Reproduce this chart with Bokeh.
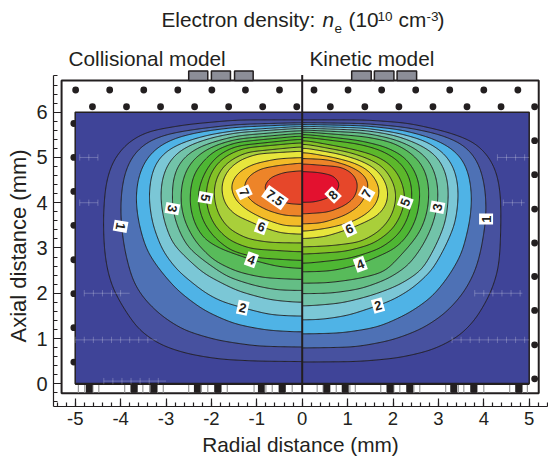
import numpy as np
from bokeh.embed import file_html
from bokeh.resources import INLINE
from bokeh.plotting import figure
from bokeh.models import Label, FixedTicker, Title
from bokeh.core.properties import value

# ---- contour levels and fill colours (density, 10^10 cm^-3)
levels_left = [0.5, 1, 1.5, 2, 2.5, 3, 3.5, 4, 4.5, 5, 5.5, 6, 6.5, 7, 7.5]
levels_right = levels_left + [8]
band_colors = ["#47519f", "#4e71b5", "#4fb3e6", "#7bc7d6", "#72c3a9", "#64be85", "#58bb5a", "#4eb733",
               "#5cb82b", "#84c226", "#a9cf3a", "#e7e63c", "#f3bb28", "#ed8429", "#e6472a", "#e3112f"]
background_color = "#3f4498"

# ---- left half (collisional model): contour outlines, radial / axial distance in mm
left_r = [
 [0, -1.43, -2.53, -3.41, -3.85, -4.18, -4.33, -4.38, -4.37, -4.31, -4.19, -3.93, -3.6, -3.12, -2.53, -1.8, -0.99, 0],
 [0, -1.43, -2.31, -2.97, -3.45, -3.78, -3.94, -4.0, -3.99, -3.91, -3.74, -3.52, -3.12, -2.61, -1.87, -0.99, 0],
 [0, -1.43, -2.17, -2.75, -3.16, -3.45, -3.62, -3.67, -3.6, -3.43, -3.16, -2.75, -2.17, -1.5, -0.77, 0],
 [0, -1.43, -2.02, -2.53, -2.94, -3.21, -3.34, -3.38, -3.3, -3.08, -2.75, -2.16, -1.8, -1.31, -0.7, 0],
 [0, -1.43, -1.95, -2.42, -2.75, -2.97, -3.1, -3.12, -3.05, -2.86, -2.57, -2.17, -1.43, -0.7, 0],
 [0, -1.43, -1.87, -2.28, -2.57, -2.77, -2.86, -2.86, -2.75, -2.53, -2.17, -1.65, -1.06, -0.55, 0],
 [0, -1.43, -1.8, -2.13, -2.39, -2.57, -2.67, -2.67, -2.57, -2.35, -1.95, -1.43, -0.84, 0],
 [0, -1.43, -1.73, -1.98, -2.2, -2.39, -2.47, -2.47, -2.37, -2.17, -1.8, -1.12, -0.55, 0],
 [0, -1.43, -1.65, -1.87, -2.06, -2.2, -2.3, -2.28, -2.18, -1.95, -1.58, -0.99, 0],
 [0, -1.28, -1.58, -1.8, -1.98, -2.09, -2.13, -2.06, -1.91, -1.62, -1.14, 0],
 [0, -1.21, -1.5, -1.73, -1.87, -1.95, -1.93, -1.84, -1.62, -1.21, -0.7, 0],
 [0, -0.99, -1.36, -1.62, -1.76, -1.78, -1.69, -1.47, -1.21, -0.9, -0.48, 0],
 [0, -0.55, -1.06, -1.36, -1.52, -1.58, -1.47, -1.21, -0.84, -0.4, 0],
 [0, -0.55, -0.92, -1.17, -1.28, -1.28, -1.1, -0.77, -0.4, 0],
 [0, -0.4, -0.7, -0.84, -0.81, -0.62, -0.33, 0],
]
left_z = [
 [5.83, 5.83, 5.73, 5.58, 5.34, 4.93, 4.42, 3.75, 3.09, 2.58, 2.13, 1.66, 1.18, 0.85, 0.66, 0.54, 0.5, 0.49],
 [5.77, 5.73, 5.63, 5.52, 5.34, 5.0, 4.56, 4.05, 3.53, 2.94, 2.28, 1.91, 1.51, 1.18, 0.96, 0.83, 0.81],
 [5.73, 5.67, 5.58, 5.45, 5.26, 4.97, 4.56, 4.05, 3.53, 2.94, 2.54, 2.06, 1.62, 1.32, 1.18, 1.14],
 [5.69, 5.6, 5.51, 5.37, 5.19, 4.93, 4.56, 4.09, 3.53, 2.94, 2.5, 2.02, 1.82, 1.68, 1.52, 1.49],
 [5.65, 5.55, 5.45, 5.3, 5.12, 4.86, 4.49, 4.05, 3.61, 3.09, 2.8, 2.43, 2.05, 1.85, 1.79],
 [5.6, 5.48, 5.37, 5.23, 5.04, 4.78, 4.42, 3.87, 3.46, 3.02, 2.72, 2.36, 2.17, 2.07, 2.06],
 [5.54, 5.41, 5.31, 5.17, 4.97, 4.71, 4.34, 3.9, 3.53, 3.13, 2.72, 2.47, 2.34, 2.3],
 [5.48, 5.34, 5.24, 5.12, 4.9, 4.64, 4.27, 3.9, 3.53, 3.2, 2.98, 2.74, 2.59, 2.54],
 [5.41, 5.26, 5.17, 5.04, 4.82, 4.56, 4.23, 3.9, 3.57, 3.24, 2.94, 2.78, 2.72],
 [5.33, 5.21, 5.09, 4.95, 4.73, 4.45, 4.11, 3.75, 3.46, 3.17, 2.98, 2.91],
 [5.24, 5.12, 4.99, 4.82, 4.6, 4.31, 4.01, 3.72, 3.42, 3.2, 3.12, 3.11],
 [5.14, 5.08, 4.95, 4.75, 4.49, 4.23, 3.94, 3.72, 3.61, 3.47, 3.33, 3.3],
 [5.0, 4.97, 4.86, 4.71, 4.53, 4.33, 4.05, 3.83, 3.64, 3.49, 3.48],
 [4.88, 4.82, 4.75, 4.6, 4.42, 4.23, 4.01, 3.83, 3.72, 3.7],
 [4.71, 4.67, 4.56, 4.38, 4.23, 4.09, 3.98, 3.96],
]

# ---- right half (kinetic model)
right_r = [
 [0, 1.39, 2.34, 3.22, 3.81, 4.14, 4.3, 4.37, 4.38, 4.36, 4.32, 4.14, 3.81, 3.44, 2.86, 2.12, 1.24, 0],
 [0, 1.39, 2.27, 3.0, 3.55, 3.85, 3.99, 4.05, 4.05, 3.94, 3.81, 3.55, 3.15, 2.64, 1.98, 1.17, 0],
 [0, 1.39, 2.2, 2.86, 3.3, 3.57, 3.7, 3.74, 3.7, 3.52, 3.22, 2.86, 2.34, 1.68, 0.87, 0],
 [0, 1.39, 2.12, 2.71, 3.11, 3.33, 3.43, 3.44, 3.37, 3.15, 2.86, 2.42, 1.98, 1.67, 1.02, 0.43, 0],
 [0, 1.39, 2.05, 2.56, 2.93, 3.13, 3.22, 3.22, 3.15, 2.93, 2.64, 2.12, 1.53, 0.87, 0],
 [0, 1.39, 2.01, 2.45, 2.78, 2.94, 3.0, 2.98, 2.86, 2.64, 2.34, 1.9, 1.31, 0.65, 0],
 [0, 1.39, 1.98, 2.38, 2.64, 2.77, 2.8, 2.75, 2.6, 2.34, 1.83, 1.24, 0.58, 0],
 [0, 1.24, 1.83, 2.23, 2.45, 2.58, 2.6, 2.53, 2.34, 2.05, 1.28, 0.65, 0],
 [0, 1.24, 1.72, 2.08, 2.31, 2.42, 2.42, 2.33, 2.12, 1.72, 1.02, 0],
 [0, 1.09, 1.57, 1.9, 2.12, 2.25, 2.27, 2.16, 1.98, 1.57, 0.95, 0],
 [0, 1.02, 1.42, 1.76, 1.96, 2.07, 2.06, 1.94, 1.68, 1.28, 0.65, 0],
 [0, 0.8, 1.24, 1.57, 1.79, 1.9, 1.87, 1.68, 1.39, 1.04, 0.51, 0],
 [0, 0.65, 1.09, 1.42, 1.62, 1.72, 1.64, 1.42, 1.09, 0.58, 0],
 [0, 0.58, 1.02, 1.31, 1.48, 1.42, 1.28, 0.95, 0.43, 0],
 [0, 0.51, 0.87, 1.13, 1.24, 1.17, 0.95, 0.58, 0],
 [0, 0.36, 0.69, 0.84, 0.76, 0.54, 0.25, 0],
]
right_z = [
 [5.83, 5.83, 5.76, 5.56, 5.34, 5.0, 4.64, 4.19, 3.68, 2.94, 2.5, 1.97, 1.4, 1.03, 0.74, 0.57, 0.49, 0.48],
 [5.77, 5.75, 5.67, 5.52, 5.3, 4.97, 4.56, 4.12, 3.64, 2.94, 2.47, 1.99, 1.55, 1.21, 0.96, 0.81, 0.79],
 [5.73, 5.7, 5.61, 5.43, 5.21, 4.93, 4.53, 4.09, 3.61, 2.87, 2.36, 1.91, 1.55, 1.25, 1.12, 1.1],
 [5.69, 5.65, 5.54, 5.37, 5.12, 4.82, 4.45, 4.05, 3.53, 3.02, 2.5, 2.1, 1.84, 1.73, 1.51, 1.42, 1.41],
 [5.65, 5.6, 5.49, 5.3, 5.08, 4.78, 4.42, 4.01, 3.53, 3.02, 2.5, 2.17, 1.95, 1.78, 1.71],
 [5.61, 5.54, 5.41, 5.23, 4.97, 4.64, 4.27, 3.9, 3.46, 3.02, 2.61, 2.32, 2.1, 2.0, 1.99],
 [5.57, 5.46, 5.34, 5.12, 4.86, 4.53, 4.16, 3.75, 3.35, 3.02, 2.47, 2.32, 2.23, 2.22],
 [5.52, 5.38, 5.24, 5.04, 4.78, 4.45, 4.09, 3.68, 3.28, 2.98, 2.64, 2.49, 2.47],
 [5.46, 5.3, 5.17, 4.97, 4.71, 4.38, 4.01, 3.64, 3.28, 2.98, 2.76, 2.65],
 [5.39, 5.19, 5.06, 4.89, 4.64, 4.31, 4.01, 3.68, 3.39, 3.09, 2.92, 2.86],
 [5.31, 5.12, 4.99, 4.82, 4.56, 4.27, 3.97, 3.64, 3.35, 3.13, 3.05, 3.02],
 [5.22, 5.08, 4.95, 4.79, 4.56, 4.27, 3.97, 3.72, 3.57, 3.42, 3.25, 3.2],
 [5.12, 5.01, 4.9, 4.75, 4.53, 4.27, 3.97, 3.75, 3.57, 3.44, 3.36],
 [4.98, 4.95, 4.82, 4.67, 4.45, 4.2, 3.94, 3.72, 3.55, 3.53],
 [4.86, 4.82, 4.79, 4.64, 4.42, 4.12, 3.94, 3.79, 3.75],
 [4.69, 4.67, 4.6, 4.42, 4.23, 4.09, 4.01, 4.01],
]

# ---- contour labels
left_label_text = ["1", "2", "3", "4", "5", "6", "7", "7.5"]
left_label_r = [-4.0, -1.31, -2.86, -1.12, -2.13, -0.9, -1.28, -0.6]
left_label_z = [3.48, 1.68, 3.87, 2.74, 4.11, 3.47, 4.23, 4.11]
left_label_angle = [-100, -12, -100, -20, -100, -20, -65, -35]
right_label_text = ["1", "2", "3", "4", "5", "6", "7", "8"]
right_label_r = [4.05, 1.67, 2.98, 1.28, 2.27, 1.04, 1.42, 0.68]
right_label_z = [3.64, 1.73, 3.9, 2.64, 4.01, 3.42, 4.2, 4.17]
right_label_angle = [90, 15, 80, 20, 70, 25, 60, 45]

# ---- apparatus: dots and magnets
dot_row1_r = [-4.99, -4.24, -3.49, -2.74, -1.99, -1.25, -0.5, 0.26, 1.01, 1.75, 2.5, 3.25, 4.0, 4.75]
dot_row2_r = [-4.62, -3.87, -3.12, -2.37, -1.62, -0.87, -0.12, 0.62, 1.38, 2.13, 2.88, 3.63, 4.38, 5.12]
dot_left_z = [5.75, 5.0, 4.25, 3.5, 2.74, 1.99, 1.24, 0.48]
dot_right_z = [5.37, 4.62, 3.86, 3.11, 2.37, 1.62, 0.86, 0.11]
magnet_left = [-2.5, -2.0, -1.49]
magnet_right = [-2.08, -1.58, -1.08]
magnet_left2 = [1.09, 1.59, 2.09]
magnet_right2 = [1.52, 2.02, 2.52]
strip_black = [-4.69, -3.7, -3.27, -2.31, -1.86, -0.9, -0.44, 0.54, 0.95, 1.94, 2.37, 3.34, 3.78, 4.77]
strip_gray = [-4.93, -4.79, -4.61, -4.48, -3.91, -3.78, -3.64, -3.51, -3.36, -3.19, -3.06, -2.5, -2.37,
              -2.22, -2.08, -1.93, -1.78, -1.65, -1.06, -0.95, -0.8, -0.66, -0.51, -0.37, -0.22,
              0.33, 0.46, 0.61, 0.75, 0.88, 1.05, 1.17, 1.73, 1.86, 2.02, 2.15, 2.3, 2.46, 2.59,
              3.16, 3.27, 3.44, 3.56, 3.71, 3.85, 4.0, 4.57, 4.7, 4.85, 4.96]

# faint pale grid fragments seen in the dark corners of the map
hatch_r0 = [-5.0, -4.37, 3.3, 3.8, -4.8, -4.9, -4.9, 4.43, 4.3]
hatch_r1 = [-3.2, -3.0, 5.0, 4.85, -3.8, -4.5, -4.5, 4.9, 5.0]
hatch_z = [0.97, 0.06, 0.97, 2.0, 2.0, 5.0, 4.0, 4.0, 5.0]

x_ticks = [-5, -4, -3, -2, -1, 0, 1, 2, 3, 4, 5]
y_ticks = [0, 1, 2, 3, 4, 5, 6]
x_labels = ["-5", "-4", "-3", "-2", "-1", "0", "1", "2", "3", "4", "5"]
y_labels = ["0", "1", "2", "3", "4", "5", "6"]

FONT = "Liberation Sans"
INK = "#231f20"
X0, SX, Y0, SY = 301.7, 45.4, 383.3, 45.27


def X(px):
    return (px - X0) / SX


def Y(py):
    return (Y0 - py) / SY


def smooth(rr, zz):
    """Smooth curve through the read points: the outline is mirrored at the axis, resampled by
    arc length and low-passed, so that reading noise does not show as wobble."""
    rr = np.asarray(rr, float)
    zz = np.asarray(zz, float)
    loop_r = np.concatenate([rr, -rr[-2:0:-1]])
    loop_z = np.concatenate([zz, zz[-2:0:-1]])
    cr, cz = np.append(loop_r, loop_r[0]), np.append(loop_z, loop_z[0])
    s = np.concatenate([[0], np.cumsum(np.hypot(np.diff(cr), np.diff(cz)))])
    step = 0.02
    m = int(s[-1] / step)
    u = np.linspace(0, s[-1], m, endpoint=False)
    dr, dz = np.interp(u, s, cr), np.interp(u, s, cz)
    half = s[len(rr) - 1]
    sigma = 0.32 * half / (len(rr) - 1)
    freq = np.fft.fftfreq(m, d=s[-1] / m)
    kernel = np.exp(-2 * (np.pi * freq * sigma) ** 2)
    sr = np.fft.ifft(np.fft.fft(dr) * kernel).real
    sz = np.fft.ifft(np.fft.fft(dz) * kernel).real
    k = np.searchsorted(u, half)
    sr, sz = sr[:k + 1], sz[:k + 1]
    sr[0] = 0
    sr[-1] = 0
    return sr, sz


p = figure(width=548, height=460, output_backend="svg", toolbar_location=None,
           x_range=(X(53), X(547)), y_range=(Y(406), Y(0)),
           min_border_left=53, min_border_right=1, min_border_top=0, min_border_bottom=54)
p.styles = {"position": "absolute", "left": "0px", "top": "0px"}
p.outline_line_color = None
p.xgrid.visible = False
p.ygrid.visible = False
p.background_fill_color = "white"

# outer vessel box
p.quad(left=[-5.3], right=[5.21], bottom=[-0.21], top=[6.7], fill_color="white", line_color=INK, line_width=2)
# magnets on the top
p.quad(left=magnet_left + magnet_left2, right=magnet_right + magnet_right2, bottom=[6.7] * 6, top=[6.91] * 6,
       fill_color="#8c8e98", line_color=INK, line_width=1.5)
# dots
dot_r = dot_row1_r + dot_row2_r + [-5.03] * len(dot_left_z) + [5.12] * len(dot_right_z)
dot_z = [6.49] * len(dot_row1_r) + [6.12] * len(dot_row2_r) + dot_left_z + dot_right_z
p.scatter(dot_r, dot_z, size=6.8, fill_color=INK, line_color=None)
# bottom strip
p.segment(strip_gray, [-0.2] * len(strip_gray), strip_gray, [0] * len(strip_gray), line_color="#9a9a9a", line_width=1.2)
p.quad(left=[v - 0.075 for v in strip_black], right=[v + 0.075 for v in strip_black],
       bottom=[-0.2] * len(strip_black), top=[0] * len(strip_black), fill_color=INK, line_color=None)

# plasma region
p.quad(left=[-5], right=[5], bottom=[0], top=[6], fill_color=background_color, line_color=INK, line_width=1.5)
p.segment([-5], [0], [5], [0], line_color=INK, line_width=2.2)

for side_r, side_z, lv in ((left_r, left_z, levels_left), (right_r, right_z, levels_right)):
    for i in range(len(lv)):
        xs, ys = smooth(side_r[i], side_z[i])
        p.patch(xs, ys, fill_color=band_colors[i], line_color=None)
        p.line(xs, ys, line_color=INK, line_width=1)

# faint hatch fragments
p.segment(hatch_r0, hatch_z, hatch_r1, hatch_z, line_color="white", line_alpha=0.3, line_width=0.8)
for r0, r1, zh in zip(hatch_r0, hatch_r1, hatch_z):
    rs = np.arange(r0, r1, 0.2)
    p.segment(rs, zh - 0.07, rs, zh + 0.07, line_color="white", line_alpha=0.3, line_width=0.8)

# contour labels
for txt, rr, zz, ang in ((left_label_text, left_label_r, left_label_z, left_label_angle),
                         (right_label_text, right_label_r, right_label_z, right_label_angle)):
    w = [24 if len(t) > 1 else 11 for t in txt]
    p.rect(rr, zz, width=w, height=[14] * len(txt), width_units="screen", height_units="screen",
           angle=ang, angle_units="deg", fill_color="white", line_color=None)
    p.text(rr, zz, text=txt, angle=ang, angle_units="deg", text_font=value(FONT), text_font_style="bold",
           text_font_size="13px", text_align="center", text_baseline="middle", text_color=INK)

# central divider
p.segment([0], [-0.2], [0], [6.82], line_color=INK, line_width=2)

# axes
for ax, ticks, labels, minor, bounds, tick_size in (
        (p.xaxis[0], x_ticks, x_labels, [round(-5.4 + 0.2 * k, 1) for k in range(55)], (X(53), X(547)), "18.5px"),
        (p.yaxis[0], y_ticks, y_labels, [round(-0.4 + 0.2 * k, 1) for k in range(37)], (Y(406), 6.81), "20px")):
    ax.ticker = FixedTicker(ticks=ticks, minor_ticks=minor)
    ax.major_label_overrides = {t: l for t, l in zip(ticks, labels)}
    ax.bounds = bounds
    ax.major_tick_in = 8
    ax.major_tick_out = 0
    ax.minor_tick_in = 4
    ax.minor_tick_out = 0
    for prop in ("axis_line_color", "major_tick_line_color", "minor_tick_line_color"):
        setattr(ax, prop, INK)
    ax.axis_line_width = 1.2
    ax.major_tick_line_width = 1.2
    ax.minor_tick_line_width = 1.2
    ax.major_label_text_font = FONT
    ax.major_label_text_font_size = tick_size
    ax.major_label_text_color = INK
p.xaxis[0].axis_label = "Radial distance (mm)"
p.xaxis[0].axis_label_text_font = FONT
p.xaxis[0].axis_label_text_font_size = "20.8px"
p.xaxis[0].axis_label_text_font_style = "normal"
p.xaxis[0].axis_label_text_color = INK
p.xaxis[0].major_label_standoff = 5
p.yaxis[0].major_label_standoff = 6
p.xaxis[0].axis_label_standoff = 5

p.add_layout(Title(text="Axial distance (mm)", align="left", offset=64, standoff=5, text_font=FONT,
                   text_font_size="22px", text_font_style="normal", text_color=INK), "left")


def put(txt, px, py, size, style="normal"):
    fs = float(size[:-2])
    p.add_layout(Label(x=X(px), y=Y(py - 0.36 * fs), text=txt, text_font=FONT, text_font_size=size,
                       text_font_style=style, text_color=INK, text_baseline="alphabetic", text_align="left"))


put("Collisional model", 68, 65.7, "20.8px")
put("Kinetic model", 309, 65.7, "20.8px")
put("Electron density:", 161, 26.7, "20.8px")
put("n", 322, 26.7, "20.8px", "italic")
put("e", 334, 33, "13.5px")
put("(10", 348, 26.7, "20.8px")
put("10", 377, 21, "13.5px")
put("cm", 398, 26.7, "20.8px")
put("-3", 426, 21, "13.5px")
put(")", 437, 26.7, "20.8px")

open("out.html", "w").write(file_html(p, INLINE))
